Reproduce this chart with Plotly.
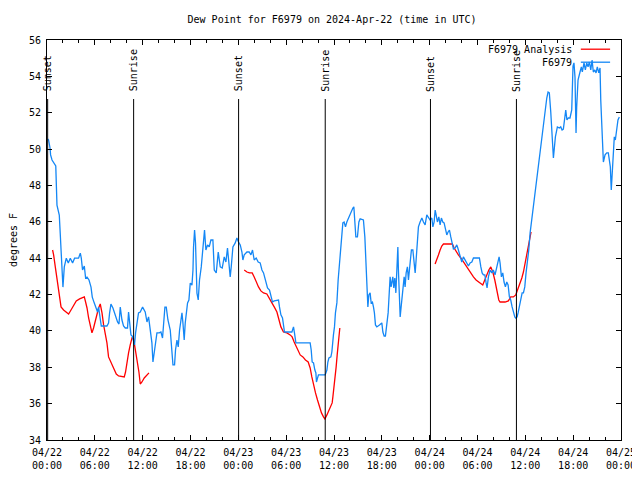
import pandas as pd
import plotly.graph_objects as go

BASE = pd.Timestamp("2024-04-22 00:00")

# Observed dew point (F6979): hours since 2024-04-22 00:00 UTC, and deg F
obs_hours = [0.08, 0.2, 0.38, 0.45, 0.63, 0.92, 1.1, 1.25, 1.54, 1.67, 1.79, 1.92, 2.0, 2.17, 2.42, 2.67, 2.92,
             3.21, 3.46, 3.96, 4.18, 4.3, 4.46, 4.68, 4.84, 5.02, 5.27, 5.52, 5.68, 5.93, 6.14, 6.34, 6.47, 6.6,
             6.68, 6.81, 7.52, 7.72, 7.85, 8.02, 8.27, 8.56, 8.85, 9.03, 9.19, 9.4, 9.6, 9.82, 10.1, 10.23, 10.36,
             10.53, 10.69, 10.86, 10.98, 11.11, 11.28, 11.48, 11.7, 11.99, 12.32, 12.54, 12.74, 12.95, 13.16,
             13.29, 13.42, 13.58, 13.79, 14.08, 14.29, 14.49, 14.62, 14.79, 14.96, 15.17, 15.46, 15.67, 15.8,
             16.0, 16.12, 16.3, 16.46, 16.63, 16.8, 16.93, 17.05, 17.21, 17.34, 17.47, 17.63, 17.8, 17.97, 18.18,
             18.31, 18.38, 18.51, 18.63, 18.81, 18.97, 19.13, 19.35, 19.51, 19.63, 19.76, 19.93, 20.14, 20.35,
             20.56, 20.81, 20.98, 21.23, 21.48, 21.73, 21.98, 22.23, 22.44, 22.64, 22.77, 22.98, 23.11, 23.32,
             23.61, 23.82, 24.02, 24.24, 24.45, 24.57, 24.74, 25.08, 25.36, 25.58, 25.78, 25.99, 26.24, 26.49,
             26.74, 26.96, 27.16, 27.41, 27.66, 27.91, 28.08, 28.28, 28.5, 28.84, 29.04, 29.16, 29.34, 29.54,
             29.66, 29.79, 30.72, 30.92, 31.04, 31.22, 33.01, 33.14, 33.26, 33.43, 33.6, 33.73, 33.8, 33.93,
             34.05, 34.89, 35.11, 35.23, 35.36, 35.61, 35.73, 35.93, 36.06, 36.18, 36.36, 36.52, 36.65, 36.77,
             36.94, 37.11, 37.27, 37.44, 37.61, 37.86, 38.11, 38.37, 38.49, 38.62, 38.74, 38.94, 39.12, 39.28,
             39.69, 39.87, 40.0, 40.12, 40.25, 40.37, 40.53, 40.66, 40.82, 40.95, 41.07, 41.2, 41.37, 41.7, 42.0,
             42.13, 42.29, 42.45, 42.63, 42.79, 42.88, 42.95, 43.04, 43.16, 43.38, 43.5, 43.63, 43.76, 43.88,
             44.01, 44.08, 44.21, 44.3, 44.42, 44.55, 44.67, 44.8, 44.92, 45.05, 45.21, 45.34, 45.46, 45.59,
             45.71, 45.89, 46.01, 46.18, 46.3, 46.43, 46.59, 46.8, 47.02, 47.22, 47.43, 47.64, 47.84, 48.05,
             48.27, 48.4, 48.56, 48.69, 48.81, 48.97, 49.15, 49.31, 49.47, 49.65, 49.81, 49.98, 50.15, 50.31,
             50.48, 50.65, 50.82, 50.98, 51.19, 51.4, 51.53, 51.73, 51.91, 52.03, 52.23, 52.45, 52.66, 52.86,
             53.07, 53.29, 53.49, 54.24, 54.42, 54.58, 54.74, 54.92, 55.08, 55.2, 55.37, 55.58, 55.79, 55.99,
             56.2, 56.37, 56.54, 56.71, 56.83, 57.0, 57.17, 57.33, 57.5, 57.67, 57.84, 58.0, 58.17, 58.34, 58.5,
             58.68, 58.8, 58.97, 59.09, 59.26, 59.43, 59.6, 59.76, 59.93, 60.09, 60.26, 60.43, 60.6, 60.76,
             60.93, 61.1, 61.26, 61.44, 61.56, 61.69, 61.76, 61.97, 62.14, 62.35, 62.51, 62.69, 62.85, 63.01,
             63.19, 63.32, 63.44, 63.52, 63.64, 63.77, 64.02, 64.27, 64.44, 64.61, 64.77, 64.95, 65.07, 65.22,
             65.39, 65.6, 65.82, 65.98, 66.1, 66.23, 66.36, 66.44, 66.61, 66.86, 67.03, 67.15, 67.36, 67.53,
             67.7, 67.87, 68.03, 68.21, 68.37, 68.53, 68.71, 68.87, 69.03, 69.21, 69.37, 69.46, 69.59, 69.71,
             69.79, 70.0, 70.21, 70.41, 70.53, 70.66, 70.78, 70.91, 71.04, 71.16, 71.29, 71.46, 71.62, 71.79]
obs_dewpt = [50.55, 50.5, 50.06, 49.68, 49.4, 49.18, 49.07, 46.92, 46.37, 45.27, 44.0, 43.07, 42.41, 43.52, 44.0,
             43.74, 44.0, 43.74, 44.0, 44.0, 44.28, 44.0, 43.35, 43.57, 42.91, 42.96, 42.8, 42.41, 41.86, 41.53,
             41.31, 41.04, 41.31, 40.87, 40.6, 40.27, 40.27, 40.43, 40.98, 41.48, 41.26, 40.87, 40.49, 40.38,
             41.31, 40.6, 40.27, 40.16, 40.16, 41.04, 40.33, 39.78, 39.72, 39.39, 39.23, 39.89, 40.44, 40.99,
             41.04, 41.31, 41.04, 40.49, 40.77, 40.05, 39.34, 38.29, 38.79, 39.39, 39.89, 39.89, 39.94, 39.61,
             40.6, 41.31, 41.31, 40.6, 40.05, 38.57, 38.13, 38.13, 38.95, 39.5, 39.12, 40.05, 40.6, 40.99, 40.44,
             39.5, 40.44, 40.99, 41.54, 41.7, 42.63, 42.52, 43.35, 44.62, 45.55, 44.84, 42.08, 41.7, 42.8, 43.52,
             44.45, 45.28, 45.55, 44.45, 44.73, 44.62, 45.0, 45.0, 43.35, 43.19, 44.34, 43.52, 43.46, 44.07,
             43.79, 44.56, 44.07, 42.97, 43.52, 44.62, 44.84, 45.11, 44.89, 44.73, 44.34, 43.9, 44.18, 44.34,
             44.34, 44.18, 44.45, 43.9, 44.01, 43.79, 43.74, 43.35, 43.19, 42.69, 42.36, 42.25, 41.87, 41.59,
             41.65, 41.7, 41.7, 41.32, 40.88, 40.71, 40.33, 39.94, 39.94, 40.22, 39.89, 39.34, 39.34, 38.95,
             38.29, 38.24, 37.85, 37.69, 37.19, 37.47, 37.58, 37.58, 37.85, 38.29, 38.51, 38.57, 38.84, 39.78,
             40.22, 40.99, 41.54, 42.8, 43.52, 44.45, 45.28, 45.94, 45.99, 45.72, 45.99, 46.27, 46.54, 46.76,
             46.82, 45.72, 45.17, 45.17, 45.99, 46.16, 46.1, 45.17, 43.9, 41.98, 41.32, 41.98, 42.09, 41.54,
             41.59, 41.32, 40.99, 40.33, 40.22, 40.33, 40.44, 39.94, 39.72, 39.72, 40.33, 40.99, 41.7, 42.42,
             42.97, 42.42, 42.97, 42.36, 42.91, 42.09, 43.9, 44.62, 43.35, 41.7, 40.77, 41.32, 41.87, 42.64,
             42.97, 42.42, 43.19, 43.52, 42.8, 43.35, 43.9, 44.45, 44.45, 43.9, 43.19, 43.9, 44.73, 45.72, 45.99,
             46.21, 45.99, 45.83, 46.38, 46.27, 46.1, 46.21, 45.72, 45.99, 46.65, 46.38, 45.99, 46.27, 45.83,
             46.21, 45.99, 45.94, 45.66, 45.28, 45.44, 45.55, 45.17, 44.89, 44.51, 44.56, 44.73, 44.56, 44.29,
             44.01, 43.79, 44.07, 43.9, 43.74, 43.57, 43.74, 43.79, 44.01, 44.01, 43.52, 43.19, 43.08, 43.08,
             42.64, 42.36, 42.97, 43.35, 43.19, 43.35, 43.08, 43.35, 43.74, 44.07, 43.74, 42.97, 43.19, 42.69,
             42.42, 42.69, 42.53, 41.87, 41.7, 41.32, 41.04, 40.77, 40.71, 40.77, 40.99, 41.32, 41.7, 42.09,
             42.09, 42.42, 43.19, 43.74, 44.45, 45.39, 45.94, 46.54, 47.2, 47.75, 48.47, 49.02, 49.4, 49.57,
             50.12, 50.89, 51.6, 52.15, 52.81, 53.14, 53.09, 52.04, 51.05, 50.34, 49.51, 50.06, 50.67, 51.22,
             51.16, 51.22, 51.05, 51.1, 51.65, 52.15, 51.6, 51.71, 51.71, 52.15, 54.57, 54.74, 53.96, 50.89,
             52.32, 53.8, 54.24, 54.52, 54.24, 54.74, 54.35, 54.74, 54.52, 54.79, 54.35, 54.9, 54.24, 54.35,
             54.19, 54.52, 54.19, 54.46, 52.7, 51.22, 49.95, 49.29, 49.68, 49.79, 49.79, 49.4, 49.02, 47.75,
             49.02, 50.12, 50.67, 50.5, 51.22, 51.6, 51.77]

# Analysis (F6979 Analysis), three runs
ana1_hours = [0.7, 0.83, 1.04, 1.17, 1.33, 1.45, 1.58, 1.76, 2.08, 2.42, 2.71, 3.01, 3.33, 3.67, 4.09, 4.39, 4.68,
              4.84, 5.02, 5.22, 5.43, 5.64, 5.84, 6.06, 6.27, 6.47, 6.68, 6.9, 7.1, 7.31, 7.52, 7.72, 8.02, 8.35,
              8.69, 8.98, 9.4, 9.69, 9.85, 10.03, 10.23, 10.44, 10.66, 10.86, 11.03, 11.2, 11.36, 11.53, 11.7,
              11.91, 12.2, 12.54, 12.79]
ana1_dewpt = [44.45, 44.18, 43.52, 43.08, 42.64, 42.14, 41.7, 41.32, 41.15, 41.04, 40.93, 41.15, 41.43, 41.65,
              41.76, 41.81, 41.87, 41.59, 41.26, 40.71, 40.33, 39.89, 40.16, 40.6, 40.99, 41.26, 41.48, 40.99,
              40.33, 39.89, 39.34, 38.57, 38.29, 37.96, 37.63, 37.52, 37.47, 37.47, 37.74, 38.29, 38.79, 39.23,
              39.61, 39.56, 39.12, 38.68, 38.24, 37.74, 37.08, 37.19, 37.41, 37.58, 37.69]
ana2_hours = [24.74, 25.08, 25.4, 25.74, 25.99, 26.24, 26.53, 26.83, 27.16, 27.58, 27.91, 28.21, 28.5, 28.84, 29.04,
              29.34, 29.66, 30.09, 30.5, 30.75, 31.0, 31.26, 31.51, 31.76, 32.1, 32.42, 32.76, 33.01, 33.22, 33.43,
              33.68, 33.93, 34.18, 34.43, 34.68, 34.86, 35.11, 35.36, 35.61, 35.77, 35.86, 36.02, 36.15, 36.27,
              36.4, 36.52, 36.65, 36.73]
ana2_dewpt = [43.35, 43.24, 43.19, 43.19, 42.97, 42.69, 42.42, 42.2, 42.09, 42.03, 41.81, 41.54, 41.32, 41.04,
              40.71, 40.22, 39.94, 39.89, 39.78, 39.67, 39.39, 39.12, 38.84, 38.68, 38.57, 38.4, 38.29, 37.96,
              37.47, 37.03, 36.59, 36.2, 35.82, 35.49, 35.27, 35.16, 35.38, 35.65, 35.87, 36.04, 36.37, 36.92,
              37.47, 38.02, 38.68, 39.34, 39.89, 40.16]
ana3_hours = [48.68, 48.9, 49.1, 49.31, 49.52, 49.73, 50.15, 50.56, 50.85, 51.07, 51.32, 51.6, 51.91, 52.23, 52.53,
              52.86, 53.16, 53.49, 53.82, 54.24, 54.66, 54.91, 55.16, 55.42, 55.67, 55.92, 56.17, 56.33, 56.49,
              56.67, 56.83, 57.46, 57.87, 58.17, 58.5, 58.8, 58.93, 59.13, 59.35, 59.56, 59.76, 59.97, 60.18,
              60.39, 60.6, 60.72]
ana3_dewpt = [43.68, 43.9, 44.18, 44.45, 44.67, 44.78, 44.78, 44.78, 44.78, 44.56, 44.34, 44.18, 44.01, 43.79,
              43.63, 43.41, 43.19, 42.97, 42.8, 42.64, 42.53, 42.8, 43.08, 43.35, 43.52, 43.24, 42.8, 42.42,
              42.09, 41.7, 41.59, 41.59, 41.65, 41.87, 41.87, 41.98, 42.14, 42.36, 42.64, 42.91, 43.24, 43.74,
              44.29, 44.73, 45.17, 45.44]

sun_labels = ["Sunset", "Sunrise", "Sunset", "Sunrise", "Sunset", "Sunrise"]
sun_times = ["2024-04-22 00:05", "2024-04-22 10:52", "2024-04-23 00:02",
             "2024-04-23 10:54", "2024-04-24 00:06", "2024-04-24 10:53"]

y_ticks = [34, 36, 38, 40, 42, 44, 46, 48, 50, 52, 54, 56]


def to_time(hours):
    return [BASE + pd.Timedelta(hours=h) for h in hours]


ana_x, ana_y = [], []
for hrs, vals in [(ana1_hours, ana1_dewpt), (ana2_hours, ana2_dewpt), (ana3_hours, ana3_dewpt)]:
    ana_x += to_time(hrs) + [None]
    ana_y += vals + [None]

FONT = "DejaVu Sans Mono"
RED = "#ff0000"
BLUE = "#1487f5"

fig = go.Figure()
fig.add_trace(go.Scatter(x=ana_x, y=ana_y, mode="lines", name="F6979 Analysis",
                         line=dict(color=RED, width=1.3), connectgaps=False))
fig.add_trace(go.Scatter(x=to_time(obs_hours), y=obs_dewpt, mode="lines", name="F6979",
                         line=dict(color=BLUE, width=1.3)))

for lab, t in zip(sun_labels, sun_times):
    fig.add_shape(type="line", xref="x", yref="paper", x0=t, x1=t, y0=0, y1=0.8525,
                  line=dict(color="black", width=1))
    fig.add_annotation(x=t, xref="x", y=0.866, yref="paper", text=lab, textangle=-90,
                       showarrow=False, xanchor="center", yanchor="bottom",
                       font=dict(family=FONT, size=10, color="black"))

# gnuplot-style key (text right-aligned, sample to its right)
for i, (name, col) in enumerate([("F6979 Analysis", RED), ("F6979", BLUE)]):
    yy = 0.977 - i * 0.0325
    fig.add_annotation(x=0.918, xref="paper", y=yy, yref="paper", text=name, showarrow=False,
                       xanchor="right", yanchor="middle", font=dict(family=FONT, size=10, color="black"))
    fig.add_shape(type="line", xref="paper", yref="paper", x0=0.93, x1=0.981, y0=yy, y1=yy,
                  line=dict(color=col, width=1.3))

# page body has an 8px margin, so the figure is sized to fit the 640x480 window
fig.update_layout(
    width=632, height=472,
    margin=dict(l=39, r=19, t=32, b=40, autoexpand=False),
    paper_bgcolor="white", plot_bgcolor="white",
    showlegend=False,
    font=dict(family=FONT, size=10, color="black"),
    title=dict(text="Dew Point for F6979 on 2024-Apr-22 (time in UTC)", x=0.5127, xref="container",
               xanchor="center", y=1 - 11 / 472, yanchor="middle", yref="container",
               automargin=False, font=dict(family=FONT, size=10, color="black")),
)
fig.update_xaxes(
    type="date", range=["2024-04-22 00:00", "2024-04-25 00:00"], automargin=False,
    dtick=6 * 3600 * 1000, tick0="2024-04-22 00:00", tickformat="%m/%d<br>%H:%M",
    ticks="inside", ticklen=5, tickcolor="black", mirror="allticks",
    showline=True, linecolor="black", linewidth=1, showgrid=False, zeroline=False,
    minor=dict(dtick=2 * 3600 * 1000, tick0="2024-04-22 00:00", ticks="inside", ticklen=3,
               tickcolor="black", showgrid=False),
    ticklabelstandoff=3,
    tickfont=dict(family=FONT, size=10),
)
fig.update_yaxes(
    range=[34, 56], tickvals=y_ticks, automargin=False,
    ticks="inside", ticklen=5, tickcolor="black", mirror="allticks",
    showline=True, linecolor="black", linewidth=1, showgrid=False, zeroline=False,
    ticklabelstandoff=3,
    title=dict(text="degrees F", standoff=12, font=dict(family=FONT, size=10)),
    tickfont=dict(family=FONT, size=10),
)

fig.write_html("out.html")
